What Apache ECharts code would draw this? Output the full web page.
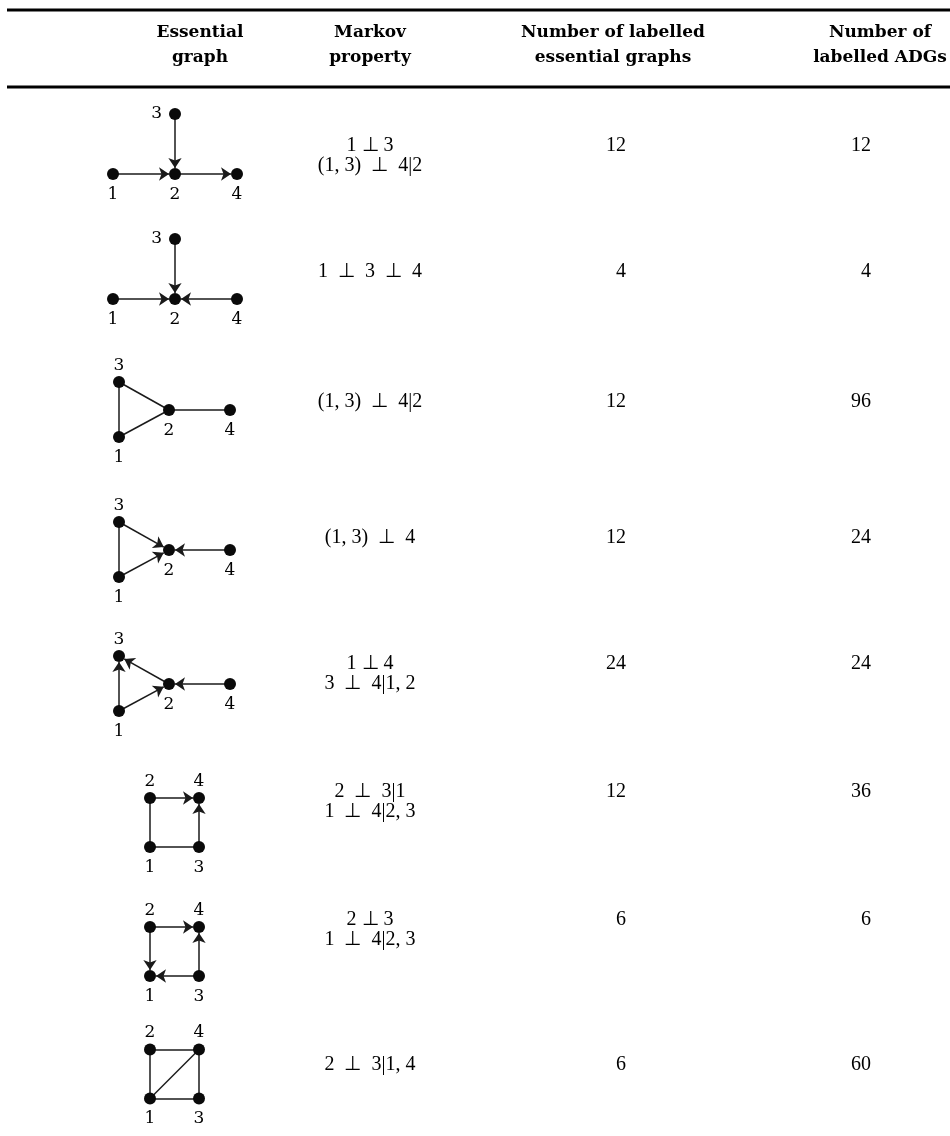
<!DOCTYPE html>
<html><head><meta charset="utf-8">
<script src="https://cdn.jsdelivr.net/npm/echarts@6/dist/echarts.min.js"></script>
<style>html,body{margin:0;padding:0;background:#fff}#c{width:950px;height:1136px}</style>
</head><body><div id="c"></div>
<script>
// ---------- data ----------
const headers = ['Essential\ngraph', 'Markov\nproperty', 'Number of labelled\nessential graphs', 'Number of\nlabelled ADGs'];
const markovProperties = [
  ['1 ⊥ 3', '(1, 3)  ⊥  4|2'],
  ['1  ⊥  3  ⊥  4'],
  ['(1, 3)  ⊥  4|2'],
  ['(1, 3)  ⊥  4'],
  ['1 ⊥ 4', '3  ⊥  4|1, 2'],
  ['2  ⊥  3|1', '1  ⊥  4|2, 3'],
  ['2 ⊥ 3', '1  ⊥  4|2, 3'],
  ['2  ⊥  3|1, 4']
];
const essentialGraphCounts = [12, 4, 12, 12, 24, 12, 6, 6];
const adgCounts = [12, 4, 96, 24, 24, 36, 6, 60];
const graphShapes = ['T', 'T', 'triangle', 'triangle', 'triangle', 'square', 'square', 'square'];
// [from, to, directed]
const graphEdges = [
  [[1, 2, 1], [3, 2, 1], [2, 4, 1]],
  [[1, 2, 1], [3, 2, 1], [4, 2, 1]],
  [[1, 3, 0], [3, 2, 0], [1, 2, 0], [2, 4, 0]],
  [[1, 3, 0], [3, 2, 1], [1, 2, 1], [4, 2, 1]],
  [[1, 3, 1], [2, 3, 1], [1, 2, 1], [4, 2, 1]],
  [[2, 1, 0], [1, 3, 0], [2, 4, 1], [3, 4, 1]],
  [[2, 1, 1], [3, 1, 1], [2, 4, 1], [3, 4, 1]],
  [[2, 1, 0], [1, 3, 0], [2, 4, 0], [3, 4, 0], [1, 4, 0]]
];

// ---------- layout (positions / styles) ----------
const rowY = [146, 272, 402, 538, 664, 792, 920, 1065];
const graphCenter = [[175, 174], [175, 299], [169, 410], [169, 550], [169, 684], [174.5, 822.5], [174.5, 951.5], [174.5, 1074]];
const shapeLayout = {
  T: { 1: [-62, 0, 'bottom'], 2: [0, 0, 'bottom'], 4: [62, 0, 'bottom'], 3: [0, -60, 'left'] },
  triangle: { 3: [-50, -28, 'top'], 1: [-50, 27, 'bottom'], 2: [0, 0, 'bottom'], 4: [61, 0, 'bottom'] },
  square: { 2: [-24.5, -24.5, 'top'], 4: [24.5, -24.5, 'top'], 1: [-24.5, 24.5, 'bottom'], 3: [24.5, 24.5, 'bottom'] }
};
const colMarkov = 370, colEss = 626, colAdg = 871;
const headerX = [200, 370, 613, 880];
const mathFont = 'Liberation Serif';
const ink = '#000';

const series = [];
graphShapes.forEach((shape, r) => {
  const lay = shapeLayout[shape];
  const c = graphCenter[r];
  const nodes = [1, 2, 3, 4].map(n => ({
    name: String(n),
    value: [c[0] + lay[n][0], c[1] + lay[n][1]],
    label: { position: lay[n][2], distance: lay[n][2] === 'left' ? 7 : (lay[n][2] === 'top' ? 2 : 6) }
  }));
  series.push({
    type: 'graph', coordinateSystem: 'cartesian2d', xAxisIndex: 0, yAxisIndex: 0,
    symbol: 'circle', symbolSize: 12, itemStyle: { color: '#0a0a0a', opacity: 1 },
    edgeSymbol: ['none', 'none'], edgeSymbolSize: [0, 10],
    lineStyle: { color: '#1a1a1a', width: 1.5, opacity: 1, curveness: 0 },
    label: { show: true, formatter: '{b}', color: ink, fontFamily: 'DejaVu Serif', fontSize: 17 },
    data: nodes,
    links: graphEdges[r].map(([s, t, d]) => ({
      source: String(s), target: String(t),
      symbol: d ? ['none', 'arrow'] : ['none', 'none'], symbolSize: [0, 10]
    })),
    silent: true, emphasis: { disabled: true }, animation: false, z: 3
  });
});

const textStyle = { color: ink, fontFamily: mathFont, fontSize: 20, lineHeight: 20, opacity: 1 };
const textSeries = (data) => ({
  type: 'scatter', symbolSize: 0, silent: true, animation: false,
  itemStyle: { opacity: 1, color: ink }, data
});
series.push(textSeries(markovProperties.map((lines, i) => ({
  value: [colMarkov, rowY[i] + (lines.length - 1) * 10],
  label: { show: true, position: 'inside', formatter: lines.join('\n'), align: 'center', ...textStyle }
}))));
series.push(textSeries(essentialGraphCounts.map((v, i) => ({
  value: [colEss, rowY[i]],
  label: { show: true, position: 'inside', formatter: String(v), align: 'right', ...textStyle }
}))));
series.push(textSeries(adgCounts.map((v, i) => ({
  value: [colAdg, rowY[i]],
  label: { show: true, position: 'inside', formatter: String(v), align: 'right', ...textStyle }
}))));

const chart = echarts.init(document.getElementById('c'), null, { renderer: 'canvas' });
chart.setOption({
  backgroundColor: '#fff',
  animation: false,
  grid: { left: 0, right: 0, top: 0, bottom: 0 },
  xAxis: { type: 'value', min: 0, max: 950, show: false },
  yAxis: { type: 'value', min: 0, max: 1136, inverse: true, show: false },
  graphic: [
    { type: 'rect', shape: { x: 7, y: 8.5, width: 943, height: 3 }, style: { fill: ink } },
    { type: 'rect', shape: { x: 7, y: 85.5, width: 943, height: 3 }, style: { fill: ink } },
    ...headers.map((h, i) => ({
      type: 'text', x: headerX[i], y: 45,
      style: { text: h, fill: ink, font: 'bold 17px "DejaVu Serif"', align: 'center', verticalAlign: 'middle', lineHeight: 25 }
    }))
  ],
  series
});
</script></body></html>
